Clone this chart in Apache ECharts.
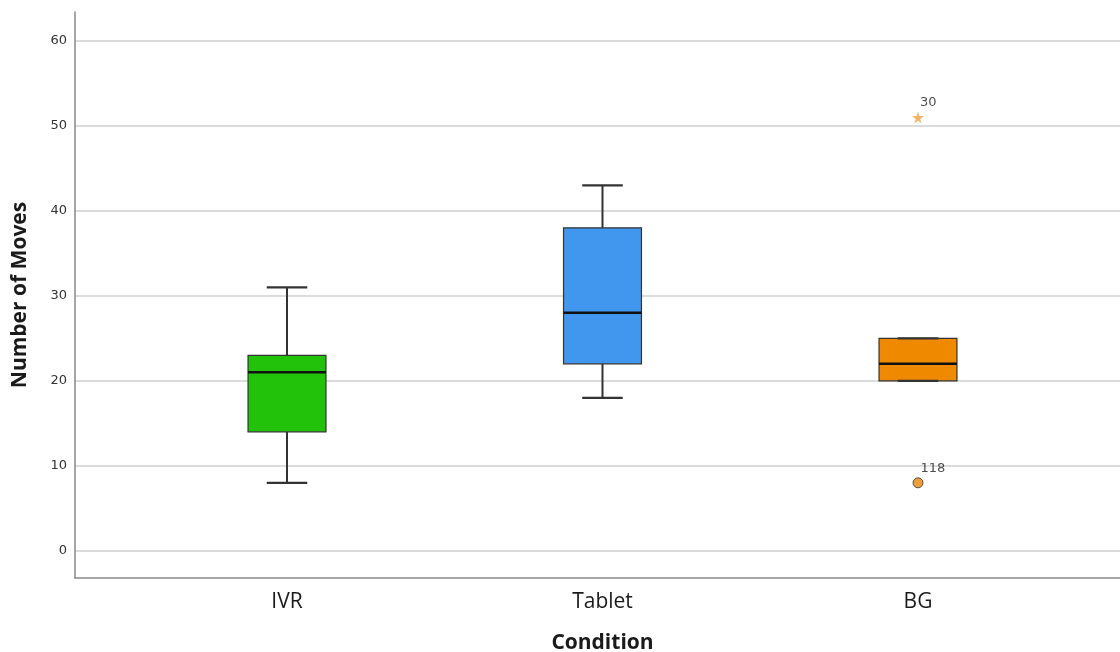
<!DOCTYPE html>
<html><head><meta charset="utf-8">
<script src="https://cdn.jsdelivr.net/npm/echarts@6/dist/echarts.min.js"></script>
<style>html,body{margin:0;padding:0;background:#fff}#c{width:1120px;height:652px}</style>
</head><body><div id="c"></div>
<script>
const categories = ['IVR', 'Tablet', 'BG'];
const mins = [8, 18, 20];
const q1s = [14, 22, 20];
const medians = [21, 28, 22];
const q3s = [23, 38, 25];
const maxs = [31, 43, 25];
const boxColors = ['#22c20a', '#4196ee', '#ef8a00'];
const outlierCats = [2, 2];
const outlierValues = [51, 8];
const outlierLabels = ['30', '118'];
const outlierKinds = ['extreme', 'mild'];
const yTicks = [0, 10, 20, 30, 40, 50, 60];

const Y_MIN = -3.2, Y_MAX = 63.4;
const boxData = categories.map((c, i) => [i, mins[i], q1s[i], medians[i], q3s[i], maxs[i]]);
const starPath = 'path://M50,0 L61,35 L98,35 L68,57 L79,91 L50,70 L21,91 L32,57 L2,35 L39,35 Z';
const outlierData = outlierValues.map((v, i) => ({
  value: [outlierCats[i], v],
  symbol: outlierKinds[i] === 'extreme' ? starPath : 'circle',
  symbolSize: outlierKinds[i] === 'extreme' ? 12 : 10,
  itemStyle: outlierKinds[i] === 'extreme'
    ? { color: '#f0a040', borderWidth: 0 }
    : { color: '#e8870c', borderColor: '#333', borderWidth: 1 },
  label: { formatter: outlierLabels[i] }
}));

const chart = echarts.init(document.getElementById('c'), null, { renderer: 'canvas' });
chart.setOption({
  animation: false,
  backgroundColor: '#fff',
  grid: [
    { left: 75, right: 0, top: 12, bottom: 74, containLabel: false, outerBoundsMode: 'none' },
    { left: 129.25, right: 44.25, top: 12, bottom: 74, containLabel: false, outerBoundsMode: 'none' }
  ],
  xAxis: [
    { gridIndex: 0, type: 'value', min: 0, max: 1,
      axisLine: { show: true, onZero: false, lineStyle: { color: '#888', width: 1.5 } },
      axisTick: { show: false }, axisLabel: { show: false }, splitLine: { show: false } },
    { gridIndex: 1, type: 'category', data: categories,
      axisLine: { show: false }, axisTick: { show: false },
      axisLabel: { fontFamily: 'Open Sans', fontSize: 21, color: '#1a1a1a', margin: 14 },
      name: 'Condition', nameLocation: 'middle', nameGap: 55,
      nameTextStyle: { fontFamily: 'Open Sans', fontSize: 21, fontWeight: 'bold', color: '#1a1a1a' } }
  ],
  yAxis: [
    { gridIndex: 0, type: 'value', min: Y_MIN, max: Y_MAX,
      axisLine: { show: true, onZero: false, lineStyle: { color: '#888', width: 1.5 } },
      axisTick: { show: false, customValues: yTicks },
      axisLabel: { customValues: yTicks, fontFamily: 'DejaVu Sans', fontSize: 13, color: '#333', margin: 8 },
      splitLine: { show: true, lineStyle: { color: '#cfcfcf', width: 1.5 } },
      name: 'Number of Moves', nameLocation: 'middle', nameGap: 44,
      nameTextStyle: { fontFamily: 'Open Sans', fontSize: 21, fontWeight: 'bold', color: '#1a1a1a' } },
    { gridIndex: 1, type: 'value', min: Y_MIN, max: Y_MAX, show: false, splitLine: { show: false } }
  ],
  series: [
    {
      type: 'custom', xAxisIndex: 1, yAxisIndex: 1,
      encode: { x: 0, y: [1, 2, 3, 4, 5] },
      data: boxData,
      renderItem: function (params, api) {
        const i = api.value(0);
        const pMin = api.coord([i, api.value(1)]);
        const pQ1 = api.coord([i, api.value(2)]);
        const pMed = api.coord([i, api.value(3)]);
        const pQ3 = api.coord([i, api.value(4)]);
        const pMax = api.coord([i, api.value(5)]);
        const band = api.size([1, 0])[0];
        const bw = band * 0.247;
        const cw = bw * 0.52;
        const x = pMin[0];
        const stroke = '#333';
        return {
          type: 'group',
          children: [
            { type: 'line', shape: { x1: x, y1: pMin[1], x2: x, y2: pQ1[1] }, style: { stroke: stroke, lineWidth: 2 } },
            { type: 'line', shape: { x1: x, y1: pQ3[1], x2: x, y2: pMax[1] }, style: { stroke: stroke, lineWidth: 2 } },
            { type: 'rect', shape: { x: x - bw / 2, y: pQ3[1], width: bw, height: pQ1[1] - pQ3[1] },
              style: { fill: boxColors[i], stroke: stroke, lineWidth: 1.2 } },
            { type: 'line', shape: { x1: x - cw / 2, y1: pMin[1], x2: x + cw / 2, y2: pMin[1] }, style: { stroke: stroke, lineWidth: 2.2 } },
            { type: 'line', shape: { x1: x - cw / 2, y1: pMax[1], x2: x + cw / 2, y2: pMax[1] }, style: { stroke: stroke, lineWidth: 2.2 } },
            { type: 'line', shape: { x1: x - bw / 2, y1: pMed[1], x2: x + bw / 2, y2: pMed[1] }, style: { stroke: '#111', lineWidth: 2.5 } }
          ]
        };
      }
    },
    {
      type: 'scatter', xAxisIndex: 1, yAxisIndex: 1,
      data: outlierData,
      label: { show: true, position: [8, -9], align: 'left', verticalAlign: 'middle',
        fontFamily: 'DejaVu Sans', fontSize: 13, color: '#222' }
    }
  ]
});
</script></body></html>
